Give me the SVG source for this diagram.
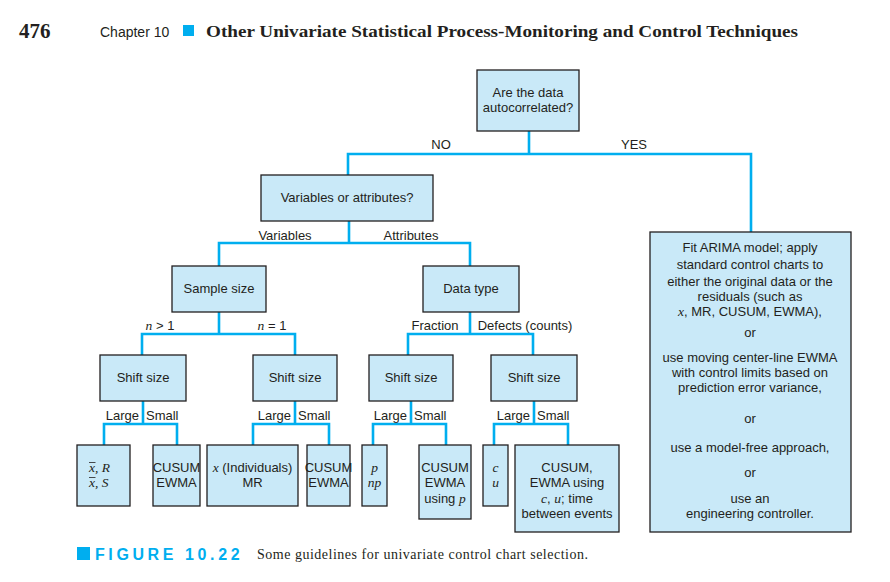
<svg xmlns="http://www.w3.org/2000/svg" width="890" height="582" viewBox="0 0 890 582">
<style>
.box{fill:#c9e9f8;stroke:#231f20;stroke-width:1.3}
.c{fill:none;stroke:#00aeef;stroke-width:2.6}
text{font-family:"Liberation Sans",Arial,sans-serif;font-size:13px;fill:#231f20}
.m{text-anchor:middle}
.e{text-anchor:end}
.i{font-family:"Liberation Serif","Times New Roman",serif;font-style:italic;font-size:13.5px}
.ol{stroke:#231f20;stroke-width:0.8}
</style>
<rect width="890" height="582" fill="#fff"/>
<g id="header">
<text x="19" y="38" style="font-family:'Liberation Serif',serif;font-weight:bold;font-size:21px">476</text>
<text x="100" y="37" style="font-size:14px">Chapter 10</text>
<rect x="183" y="25" width="11" height="11" fill="#00aeef"/>
<text x="206" y="37" style="font-family:'Liberation Serif',serif;font-weight:bold;font-size:17px" textLength="592" lengthAdjust="spacingAndGlyphs">Other Univariate Statistical Process-Monitoring and Control Techniques</text>
</g>
<g id="connectors">
<path class="c" d="M529,131V154M348,175V154H751V232"/>
<path class="c" d="M349,221V243M219,266V243H470V266"/>
<path class="c" d="M219,312V334M142,355V334H295V355"/>
<path class="c" d="M470,312V334M408,355V334H533V355"/>
<path class="c" d="M143,401V424M104,445V424H177V445"/>
<path class="c" d="M295,401V424M253,445V424H329V445"/>
<path class="c" d="M411,401V424M373,445V424H446V445"/>
<path class="c" d="M534,401V424M494,445V424H568V445"/>
</g>
<g id="edge-labels">
<text x="441" y="149" class="m">NO</text>
<text x="634" y="149" class="m">YES</text>
<text x="285" y="240" class="m">Variables</text>
<text x="411" y="240" class="m">Attributes</text>
<text x="160" y="330" class="m"><tspan class="i">n</tspan> &gt; 1</text>
<text x="272" y="330" class="m"><tspan class="i">n</tspan> = 1</text>
<text x="435" y="330" class="m">Fraction</text>
<text x="525" y="330" class="m">Defects (counts)</text>
<text x="139" y="420" class="e">Large</text><text x="146" y="420">Small</text>
<text x="291" y="420" class="e">Large</text><text x="298" y="420">Small</text>
<text x="407" y="420" class="e">Large</text><text x="414" y="420">Small</text>
<text x="530" y="420" class="e">Large</text><text x="537" y="420">Small</text>
</g>
<g id="n-autocorr">
<rect class="box" x="477" y="70" width="102" height="61"/>
<text x="528" y="97" class="m">Are the data</text>
<text x="528" y="112" class="m">autocorrelated?</text>
</g>
<g id="n-varattr">
<rect class="box" x="261" y="175" width="172" height="46"/>
<text x="347" y="202" class="m">Variables or attributes?</text>
</g>
<g id="n-arima">
<rect class="box" x="650" y="232" width="201" height="300"/>
<text x="750" y="252" class="m">Fit ARIMA model; apply</text>
<text x="750" y="269" class="m">standard control charts to</text>
<text x="750" y="286" class="m">either the original data or the</text>
<text x="750" y="301" class="m">residuals (such as</text>
<text x="750" y="316" class="m"><tspan class="i">x</tspan>, MR, CUSUM, EWMA),</text>
<text x="750" y="337" class="m">or</text>
<text x="750" y="362" class="m">use moving center-line EWMA</text>
<text x="750" y="377" class="m">with control limits based on</text>
<text x="750" y="392" class="m">prediction error variance,</text>
<text x="750" y="423" class="m">or</text>
<text x="750" y="452" class="m">use a model-free approach,</text>
<text x="750" y="477" class="m">or</text>
<text x="750" y="503" class="m">use an</text>
<text x="750" y="518" class="m">engineering controller.</text>
</g>
<g id="n-samplesize">
<rect class="box" x="172" y="266" width="94" height="46"/>
<text x="219" y="293" class="m">Sample size</text>
</g>
<g id="n-datatype">
<rect class="box" x="423" y="266" width="96" height="46"/>
<text x="471" y="293" class="m">Data type</text>
</g>
<g id="n-shift1">
<rect class="box" x="100" y="355" width="86" height="46"/>
<text x="143" y="382" class="m">Shift size</text>
</g>
<g id="n-shift2">
<rect class="box" x="253" y="355" width="84" height="46"/>
<text x="295" y="382" class="m">Shift size</text>
</g>
<g id="n-shift3">
<rect class="box" x="369" y="355" width="84" height="46"/>
<text x="411" y="382" class="m">Shift size</text>
</g>
<g id="n-shift4">
<rect class="box" x="491" y="355" width="86" height="46"/>
<text x="534" y="382" class="m">Shift size</text>
</g>
<g id="n-xbar">
<rect class="box" x="77" y="445" width="53" height="61"/>
<text x="89" y="472" class="i">x, R</text>
<text x="89" y="487" class="i">x, S</text>
<line class="ol" x1="89" y1="462.5" x2="95.5" y2="462.5"/>
<line class="ol" x1="89" y1="477.5" x2="95.5" y2="477.5"/>
</g>
<g id="n-cusum1">
<rect class="box" x="153" y="445" width="47" height="61"/>
<text x="176.5" y="472" class="m">CUSUM</text>
<text x="176.5" y="487" class="m">EWMA</text>
</g>
<g id="n-indiv">
<rect class="box" x="207" y="445" width="91" height="61"/>
<text x="252.5" y="472" class="m"><tspan class="i">x</tspan> (Individuals)</text>
<text x="252.5" y="487" class="m">MR</text>
</g>
<g id="n-cusum2">
<rect class="box" x="307" y="445" width="43" height="61"/>
<text x="328.5" y="472" class="m">CUSUM</text>
<text x="328.5" y="487" class="m">EWMA</text>
</g>
<g id="n-p">
<rect class="box" x="362" y="445" width="25" height="61"/>
<text x="374.5" y="472" class="m i">p</text>
<text x="374.5" y="487" class="m i">np</text>
</g>
<g id="n-cusum3">
<rect class="box" x="419" y="445" width="52" height="74"/>
<text x="445" y="472" class="m">CUSUM</text>
<text x="445" y="487" class="m">EWMA</text>
<text x="445" y="503" class="m">using <tspan class="i">p</tspan></text>
</g>
<g id="n-cu">
<rect class="box" x="483" y="445" width="25" height="61"/>
<text x="495.5" y="472" class="m i">c</text>
<text x="495.5" y="487" class="m i">u</text>
</g>
<g id="n-cusum4">
<rect class="box" x="515" y="445" width="104" height="87"/>
<text x="567" y="472" class="m">CUSUM,</text>
<text x="567" y="487" class="m">EWMA using</text>
<text x="567" y="503" class="m"><tspan class="i">c</tspan>, <tspan class="i">u</tspan>; time</text>
<text x="567" y="518" class="m">between events</text>
</g>
<g id="caption">
<rect x="77" y="547" width="13" height="13" fill="#00aeef"/>
<text x="95" y="560" style="font-weight:bold;font-size:16px;fill:#00aeef;letter-spacing:3.6px">FIGURE 10.22</text>
<text x="257" y="559" style="font-family:'Liberation Serif',serif;font-size:14px" textLength="331">Some guidelines for univariate control chart selection.</text>
</g>
</svg>
